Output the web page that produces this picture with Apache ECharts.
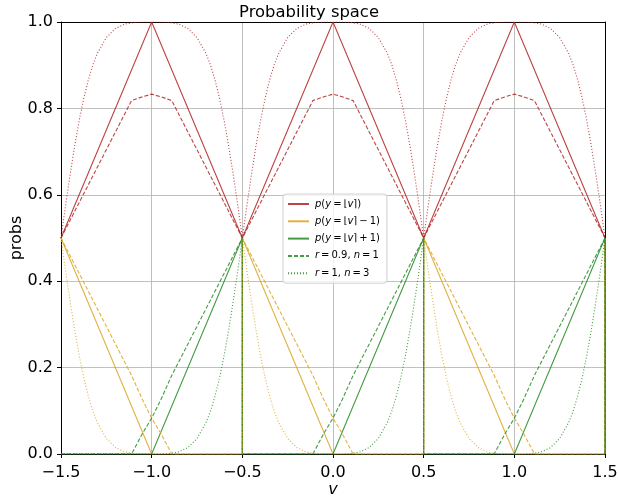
<!DOCTYPE html>
<html>
<head>
<meta charset="utf-8">
<script src="https://cdn.jsdelivr.net/npm/echarts@6/dist/echarts.min.js"></script>
<style>html,body{margin:0;padding:0;background:#fff}#c{width:618px;height:500px}</style>
</head>
<body>
<div id="c"></div>
<script>
// x ticks / y ticks
var xTicks = [-1.5, -1.0, -0.5, 0.0, 0.5, 1.0, 1.5];
var yTicks = [0.0, 0.2, 0.4, 0.6, 0.8, 1.0];

// solid: exact rounding model
var vSolid   = [-1.5, -1.0, -0.5, -0.5, 0.0, 0.5, 0.5, 1.0, 1.5, 1.5];
var solidRound = [0.5, 1, 0.5, 0.5, 1, 0.5, 0.5, 1, 0.5, 0.5];
var solidBelow = [0.5, 0, 0, 0.5, 0, 0, 0.5, 0, 0, 0.5];
var solidAbove = [0, 0, 0.5, 0, 0, 0.5, 0, 0, 0.5, 0];

// dashed: r = 0.9, n = 1
var vDashed = [-1.5, -1.111, -1.05, -1.0, -0.95, -0.889, -0.5,
               -0.5, -0.111, -0.05, 0.0, 0.05, 0.111, 0.5,
               0.5, 0.889, 0.95, 1.0, 1.05, 1.111, 1.5, 1.5];
var dashedRound = [0.5, 0.818, 0.827, 0.833, 0.827, 0.818, 0.5,
                   0.5, 0.818, 0.827, 0.833, 0.827, 0.818, 0.5,
                   0.5, 0.818, 0.827, 0.833, 0.827, 0.818, 0.5, 0.5];
var dashedBelow = [0.5, 0.182, 0.125, 0.083, 0.048, 0, 0,
                   0.5, 0.182, 0.125, 0.083, 0.048, 0, 0,
                   0.5, 0.182, 0.125, 0.083, 0.048, 0, 0, 0.5];
var dashedAbove = [0, 0, 0.048, 0.083, 0.125, 0.182, 0.5,
                   0, 0, 0.048, 0.083, 0.125, 0.182, 0.5,
                   0, 0, 0.048, 0.083, 0.125, 0.182, 0.5, 0];

// dotted: r = 1, n = 3
var vDotted = [
  -1.5,-1.475,-1.45,-1.425,-1.4,-1.375,-1.35,-1.325,-1.3,-1.25,-1.2,-1.15,-1.1,-1.05,-1.0,-0.95,-0.9,-0.85,-0.8,-0.75,-0.7,-0.675,-0.65,-0.625,-0.6,-0.575,-0.55,-0.525,-0.5,
  -0.5,-0.475,-0.45,-0.425,-0.4,-0.375,-0.35,-0.325,-0.3,-0.25,-0.2,-0.15,-0.1,-0.05,0.0,0.05,0.1,0.15,0.2,0.25,0.3,0.325,0.35,0.375,0.4,0.425,0.45,0.475,0.5,
  0.5,0.525,0.55,0.575,0.6,0.625,0.65,0.675,0.7,0.75,0.8,0.85,0.9,0.95,1.0,1.05,1.1,1.15,1.2,1.25,1.3,1.325,1.35,1.375,1.4,1.425,1.45,1.475,1.5,
  1.5];
var dottedRound = [
  0.5,0.575,0.646,0.712,0.771,0.822,0.865,0.9,0.927,0.964,0.985,0.995,0.999,1,1,1,0.999,0.995,0.985,0.964,0.927,0.9,0.865,0.822,0.771,0.712,0.646,0.575,0.5,
  0.5,0.575,0.646,0.712,0.771,0.822,0.865,0.9,0.927,0.964,0.985,0.995,0.999,1,1,1,0.999,0.995,0.985,0.964,0.927,0.9,0.865,0.822,0.771,0.712,0.646,0.575,0.5,
  0.5,0.575,0.646,0.712,0.771,0.822,0.865,0.9,0.927,0.964,0.985,0.995,0.999,1,1,1,0.999,0.995,0.985,0.964,0.927,0.9,0.865,0.822,0.771,0.712,0.646,0.575,0.5,
  0.5];
var dottedBelow = [
  0.5,0.425,0.354,0.288,0.229,0.178,0.135,0.1,0.073,0.036,0.015,0.005,0.001,0,0,0,0,0,0,0,0,0,0,0,0,0,0,0,0,
  0.5,0.425,0.354,0.288,0.229,0.178,0.135,0.1,0.073,0.036,0.015,0.005,0.001,0,0,0,0,0,0,0,0,0,0,0,0,0,0,0,0,
  0.5,0.425,0.354,0.288,0.229,0.178,0.135,0.1,0.073,0.036,0.015,0.005,0.001,0,0,0,0,0,0,0,0,0,0,0,0,0,0,0,0,
  0.5];
var dottedAbove = [
  0,0,0,0,0,0,0,0,0,0,0,0,0,0,0,0,0.001,0.005,0.015,0.036,0.073,0.1,0.135,0.178,0.229,0.288,0.354,0.425,0.5,
  0,0,0,0,0,0,0,0,0,0,0,0,0,0,0,0,0.001,0.005,0.015,0.036,0.073,0.1,0.135,0.178,0.229,0.288,0.354,0.425,0.5,
  0,0,0,0,0,0,0,0,0,0,0,0,0,0,0,0,0.001,0.005,0.015,0.036,0.073,0.1,0.135,0.178,0.229,0.288,0.354,0.425,0.5,
  0];

var TS = '\u2009'; // thin space as in math typesetting
var legendLabels = {
  pr: '{i|p}({i|y}' + TS + '=' + TS + '\u230A{i|v}\u2309)',
  pm: '{i|p}({i|y}' + TS + '=' + TS + '\u230A{i|v}\u2309' + TS + '\u2212' + TS + '1)',
  pp: '{i|p}({i|y}' + TS + '=' + TS + '\u230A{i|v}\u2309' + TS + '+' + TS + '1)',
  d:  '{i|r}' + TS + '=' + TS + '0.9, {i|n}' + TS + '=' + TS + '1',
  t:  '{i|r}' + TS + '=' + TS + '1, {i|n}' + TS + '=' + TS + '3'
};

var RED = '#b22222', ORANGE = '#daa520', GREEN = '#228b22';
var FONT = 'DejaVu Sans';

function zip(xs, ys) { return xs.map(function (x, i) { return [x, ys[i]]; }); }
function mk(name, xs, ys, color, type) {
  return {
    name: name, type: 'line', data: zip(xs, ys), symbol: 'none', showSymbol: false,
    animation: false, silent: true,
    lineStyle: { color: color, width: 1.1, type: type, opacity: 0.85 },
    itemStyle: { color: color }
  };
}
function fmt(v) { return v.toFixed(1).replace('-', '\u2212'); }

var chart = echarts.init(document.getElementById('c'));
chart.setOption({
  animation: false,
  textStyle: { fontFamily: FONT },
  title: {
    text: 'Probability space', left: 'center', top: 0,
    textStyle: { fontFamily: FONT, fontSize: 16.4, fontWeight: 'normal', color: '#000' }
  },
  grid: { left: 61, right: 13, top: 22, bottom: 46, outerBoundsMode: 'none', containLabel: false },
  legend: {
    data: ['pr', 'pm', 'pp', 'd', 't'],
    orient: 'vertical', left: 283, top: 194,
    itemWidth: 21, itemHeight: 12, itemGap: 7.3,
    padding: [5, 7, 5, 4],
    backgroundColor: 'rgba(255,255,255,0.8)', borderColor: '#d0d0d0', borderWidth: 1, borderRadius: 3,
    itemStyle: { opacity: 0 },
    formatter: function (n) { return legendLabels[n]; },
    textStyle: {
      fontFamily: FONT, fontSize: 10, color: '#000', padding: [0, 0, 0, 1],
      rich: { i: { fontFamily: FONT, fontSize: 10, fontStyle: 'italic', color: '#000' } }
    }
  },
  xAxis: [{
    type: 'value', min: -1.5, max: 1.5, interval: 0.5,
    name: 'v', nameLocation: 'middle', nameGap: 28, nameMoveOverlap: false,
    nameTextStyle: { fontFamily: FONT, fontSize: 16, fontStyle: 'italic', color: '#000' },
    axisLine: { show: true, onZero: false, lineStyle: { color: '#000', width: 1 } },
    axisTick: { show: true, length: 4, lineStyle: { color: '#000' } },
    axisLabel: { formatter: fmt, fontFamily: FONT, fontSize: 16, color: '#000', margin: 11 },
    splitLine: { show: true, lineStyle: { color: '#b0b0b0', width: 0.8 } }
  }, {
    type: 'value', min: -1.5, max: 1.5, position: 'top',
    axisLine: { show: true, onZero: false, lineStyle: { color: '#000', width: 1 } },
    axisTick: { show: false }, axisLabel: { show: false }, splitLine: { show: false }
  }],
  yAxis: [{
    type: 'value', min: 0, max: 1, interval: 0.2,
    name: 'probs', nameLocation: 'middle', nameGap: 36, nameRotate: 90, nameMoveOverlap: false,
    nameTextStyle: { fontFamily: FONT, fontSize: 16, color: '#000' },
    axisLine: { show: true, onZero: false, lineStyle: { color: '#000', width: 1 } },
    axisTick: { show: true, length: 4, lineStyle: { color: '#000' } },
    axisLabel: { formatter: fmt, fontFamily: FONT, fontSize: 16, color: '#000', margin: 8 },
    splitLine: { show: true, lineStyle: { color: '#b0b0b0', width: 0.8 } }
  }, {
    type: 'value', min: 0, max: 1, position: 'right',
    axisLine: { show: true, onZero: false, lineStyle: { color: '#000', width: 1 } },
    axisTick: { show: false }, axisLabel: { show: false }, splitLine: { show: false }
  }],
  series: [
    mk('pr', vSolid, solidRound, RED, 'solid'),
    mk('pm', vSolid, solidBelow, ORANGE, 'solid'),
    mk('pp', vSolid, solidAbove, GREEN, 'solid'),
    mk('dr', vDashed, dashedRound, RED, [4, 2]),
    mk('dm', vDashed, dashedBelow, ORANGE, [4, 2]),
    mk('d', vDashed, dashedAbove, GREEN, [4, 2]),
    mk('tr', vDotted, dottedRound, RED, [1, 2]),
    mk('tm', vDotted, dottedBelow, ORANGE, [1, 2]),
    mk('t', vDotted, dottedAbove, GREEN, [1, 2])
  ]
});
</script>
</body>
</html>
